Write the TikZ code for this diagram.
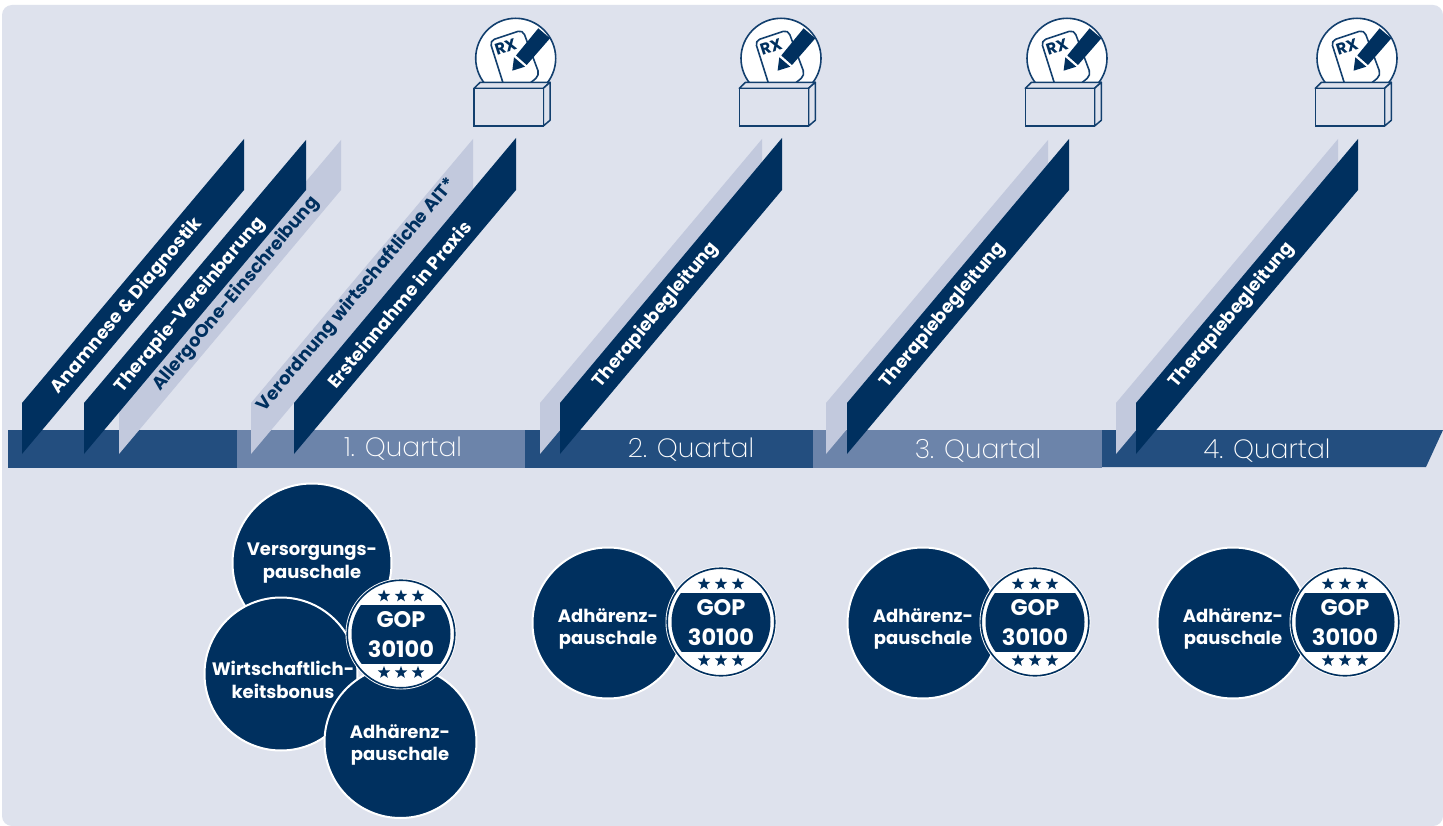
\documentclass[tikz,border=0pt]{standalone}
\usepackage{fontspec}
\usetikzlibrary{shapes.geometric}
\setmainfont{Poppins}
\newfontfamily\thinfont{Poppins}[UprightFont={* ExtraLight}]
\definecolor{bgc}{HTML}{DEE2ED}
\definecolor{navy}{HTML}{00305F}
\definecolor{barD}{HTML}{234E7F}
\definecolor{barL}{HTML}{6C84AA}
\definecolor{ribL}{HTML}{C2C9DD}
\definecolor{iconc}{HTML}{123F6E}
\tikzset{
  ribD/.style={fill=navy},
  ribG/.style={fill=ribL},
  ribtext/.style={rotate=50,font=\bfseries\fontsize{18}{18}\selectfont,inner sep=0pt},
  quartal/.style={text=white,font=\thinfont\fontsize{26.5}{26.5}\selectfont,inner sep=0pt},
  pausch/.style={circle,fill=navy,draw=white,line width=2pt,minimum size=#1,inner sep=0pt},
  ptext/.style={text=white,align=center,inner sep=0pt,font=\bfseries\fontsize{18}{22.5}\selectfont},
  goptext/.style={text=white,align=center,inner sep=0pt,font=\bfseries\fontsize{22.5}{30}\selectfont},
  stern/.style={star,star points=5,star point ratio=2.4,fill=navy,minimum size=13pt,inner sep=0pt},
}
\newcommand{\ribbon}[3]{% style, left x, top-right y
  \fill[#1] (#2,403) -- (#2,454) -- (#2+222,190) -- (#2+222,#3) -- cycle;}
\newcommand{\rxicon}[2]{%
  \begin{scope}[shift={(#1,58.3)}]
    \fill[white] (0,0) circle (40);
    \begin{scope}
      \clip (0,0) circle (40);
      \draw[iconc,line width=1.6pt,rounded corners=5pt,fill=white] (-11,30) -- (-26,-17.5) -- (7,-28.5) -- (24,17) -- (8,30);
      \fill[navy] (0.3,-2.8) -- (22.6,-30) -- (34.3,-20) -- (11,6.7) -- cycle;
    \end{scope}
    \fill[navy] (-3.4,12.4) -- (-1.7,-1) -- (9.3,8.4) -- cycle;
    \draw[iconc,line width=1.6pt] (0,0) circle (40);
    \node[rotate=18,text=navy,inner sep=0pt,font=\bfseries\fontsize{16}{16}\selectfont] (rx#2) at (-10,-11.6) {RX};
    \draw[iconc,line width=1.5pt,fill=bgc,line join=round] (-41.7,30) -- (-35.5,24) -- (34.3,24) -- (27.6,30) -- cycle;
    \draw[iconc,line width=1.5pt,fill=bgc,line join=round] (27.6,30) -- (34.3,24) -- (34.3,62) -- (27.6,67.7) -- cycle;
    \draw[iconc,line width=1.5pt,fill=bgc] (-41.7,30) rectangle (27.6,67.7);
  \end{scope}}
\newcommand{\gopbadge}[3]{%
  \begin{scope}[shift={(#1,#2)}]
    \fill[white] (0,0) circle (55.5);
    \draw[navy,line width=1.6pt] (0,0) circle (53.8);
    \begin{scope}
      \clip (0,0) circle (49.5);
      \fill[navy] (-55,-29.5) rectangle (55,29.5);
    \end{scope}
    \foreach \sx/\sn in {-17/a,0/b,17/c}{
      \node[stern] (st#3\sn) at (\sx,-38) {};
      \node[stern] (sb#3\sn) at (\sx,38.5) {};
    }
    \node[goptext] (gop#3) at (0,0.5) {GOP\\30100};
  \end{scope}}
\begin{document}
\begin{tikzpicture}[x=1pt,y=-1pt]
\useasboundingbox (0,0) rectangle (1443,826);
\fill[white] (0,0) rectangle (1443,826);
\fill[bgc,rounded corners=10pt] (2,5) rectangle (1443,826);
% bar
\fill[barD] (8,430) rectangle (237,468);
\fill[barL] (237,430) rectangle (525,468);
\fill[barD] (525,430) rectangle (813,468);
\fill[barL] (813,430) rectangle (1102,468);
\fill[barD] (1102,430) -- (1443,430) -- (1426,467) -- (1102,467) -- cycle;
% ribbons
\ribbon{ribD}{22}{139}
\ribbon{ribG}{119}{140}
\ribbon{ribD}{84}{140}
\ribbon{ribG}{251}{139}
\ribbon{ribD}{294}{138}
\ribbon{ribG}{540}{139}
\ribbon{ribD}{560}{138}
\ribbon{ribG}{826}{140}
\ribbon{ribD}{847}{139}
\ribbon{ribG}{1116}{139}
\ribbon{ribD}{1136}{139}
% ribbon labels
\node[ribtext,text=white] (r1) at (127,306) {Anamnese \& Diagnostik};
\node[ribtext,text=white] (r2) at (190,305) {Therapie-Vereinbarung};
\node[ribtext,text=navy] (r3) at (236,294) {AllergoOne-Einschreibung};
\node[ribtext,text=navy] (r4) at (357,295) {Verordnung wirtschaftliche AIT*};
\node[ribtext,text=white] (r5) at (399,304) {Ersteinnahme in Praxis};
\node[ribtext,text=white] (r6) at (656,315) {Therapiebegleitung};
\node[ribtext,text=white] (r7) at (943,315) {Therapiebegleitung};
\node[ribtext,text=white] (r8) at (1232,315) {Therapiebegleitung};
% quarter labels
\node[quartal] (q1) at (403,449) {1. Quartal};
\node[quartal] (q2) at (691,450) {2. Quartal};
\node[quartal] (q3) at (978,450.5) {3. Quartal};
\node[quartal] (q4) at (1267,450.5) {4. Quartal};
% icons
\rxicon{515.7}{a}
\rxicon{781}{b}
\rxicon{1067}{c}
\rxicon{1357}{d}
% circles Q1
\node[pausch=159pt] (c1) at (312,563) {};
\node[ptext] (t1) at (312,563) {Versorgungs-\\pauschale};
\node[pausch=153pt] (c2) at (281,674) {};
\node[ptext] (t2) at (283,680) {Wirtschaftlich-\\keitsbonus};
\node[pausch=152pt] (c3) at (400.5,742) {};
\node[ptext] (t3) at (400,745) {Adhärenz-\\pauschale};
\gopbadge{401}{634}{a}
% circles others
\node[pausch=151pt] (c4) at (608,623) {};
\node[ptext] (t4) at (608,629) {Adhärenz-\\pauschale};
\gopbadge{721}{622}{b}
\node[pausch=151pt] (c5) at (923,623) {};
\node[ptext] (t5) at (923,629) {Adhärenz-\\pauschale};
\gopbadge{1035}{622}{c}
\node[pausch=151pt] (c6) at (1233,623) {};
\node[ptext] (t6) at (1233,629) {Adhärenz-\\pauschale};
\gopbadge{1345}{622}{d}
\end{tikzpicture}
\end{document}
